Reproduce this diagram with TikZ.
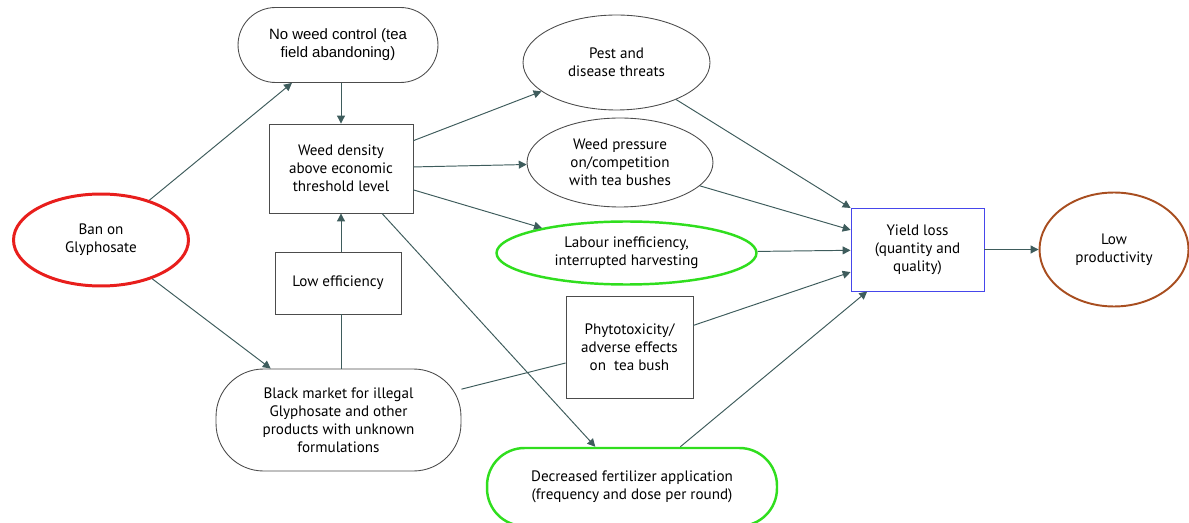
\documentclass[tikz,border=0pt]{standalone}
\usepackage{fontspec}
\setmainfont{PT Sans}
\newfontfamily\arialfont{Liberation Sans}
\usetikzlibrary{shapes.geometric,arrows.meta}
\definecolor{linkgrey}{RGB}{62,92,92}
\definecolor{banred}{RGB}{232,30,28}
\definecolor{limegreen}{RGB}{48,222,30}
\definecolor{rustbrown}{RGB}{168,78,32}
\definecolor{yieldblue}{RGB}{70,70,235}
\begin{document}
\begin{tikzpicture}[x=0.02cm,y=-0.02cm,>={Triangle[length=4.5pt,width=4.5pt]},
    every node/.style={align=center,inner sep=0pt,font=\fontsize{8.6}{10.2}\selectfont},
    box/.style={draw=black!70,line width=0.5pt},
    oval/.style={ellipse,draw=black!70,line width=0.5pt},
    pill/.style={draw=black!70,line width=0.5pt,rounded corners=0.75cm},
    link/.style={linkgrey,line width=0.55pt}]
      %\draw [help lines] (0,0) grid (1189,523);
      \useasboundingbox (0,0) rectangle (1189,523);
      \node[oval,draw=banred,line width=1.7pt,minimum width=3.5cm,minimum height=1.84cm] (ban) at (101,240) {Ban on\\Glyphosate};
      \node[pill,minimum width=4cm,minimum height=1.5cm,font=\arialfont\fontsize{8.5}{10.2}\selectfont] (nowc) at (338,45) {No weed control (tea\\field abandoning)};
      \node[box,minimum width=2.88cm,minimum height=1.78cm] (wd) at (341,168.5) {Weed density\\above economic\\threshold level};
      \node[box,minimum width=2.52cm,minimum height=1.24cm] (loweff) at (338,283) {Low efficiency};
      \node[pill,minimum width=4.9cm,minimum height=2.04cm,rounded corners=0.95cm] (bm) at (338.5,420) {Black market for illegal\\Glyphosate and other\\products with unknown\\formulations};
      \node[oval,minimum width=3.74cm,minimum height=1.9cm] (pest) at (616.5,62.5) {Pest and\\disease threats};
      \node[oval,minimum width=3.72cm,minimum height=1.78cm] (wp) at (620,162.5) {Weed pressure\\on/competition\\with tea bushes};
      \node[oval,draw=limegreen,line width=1.4pt,minimum width=5.2cm,minimum height=1.26cm] (labour) at (626.5,253) {Labour inefficiency,\\interrupted harvesting};
      \node[box,minimum width=2.54cm,minimum height=2.04cm] (phyto) at (629.5,347) {Phytotoxicity/\\adverse effects\\on\ \ tea bush};
      \node[pill,draw=limegreen,line width=1.4pt,minimum width=5.8cm,minimum height=1.56cm] (fert) at (632,487) {Decreased fertilizer application\\(frequency and dose per round)};
      \node[box,draw=yieldblue,minimum width=2.66cm,minimum height=1.66cm] (yield) at (917.5,249.5) {Yield loss\\(quantity and\\quality)};
      \node[oval,draw=rustbrown,line width=1.1pt,minimum width=2.98cm,minimum height=2.28cm] (lowprod) at (1114,249.5) {Low\\productivity};

      \draw[->,link] (ban) to (nowc);
      \draw[->,link] (ban) to (bm);
      \draw[->,link] (nowc.south -| wd) to (wd);
      \draw[link] (bm.north -| wd) to (loweff.south -| wd);
      \draw[->,link] (loweff.north -| wd) to (wd);
      \draw[->,link] (wd) to (pest);
      \draw[->,link] (wd) to (wp);
      \draw[->,link] (wd) to (labour);
      \draw[->,link] (wd) to (fert);
      \draw[link] (bm) to (phyto);
      \draw[->,link] (pest) to (yield);
      \draw[->,link] (wp) to (yield);
      \draw[->,link] (labour) to (yield);
      \draw[->,link] (phyto) to (yield);
      \draw[->,link] (fert) to (yield);
      \draw[->,link] (yield) to (lowprod);
    \end{tikzpicture}
\end{document}
